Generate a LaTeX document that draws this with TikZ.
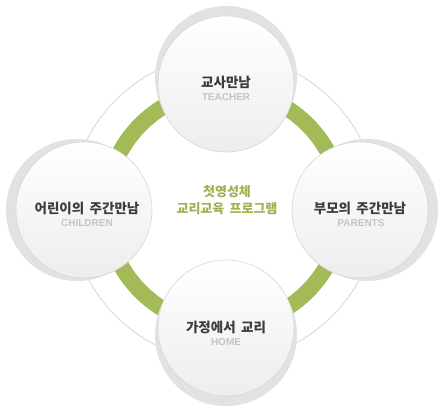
\documentclass[tikz,border=0pt]{standalone}
\usepackage{fontspec}
\newfontfamily\kr{Noto Sans CJK KR}
\newfontfamily\en{Liberation Sans}
\definecolor{shadowgray}{HTML}{E2E2E2}
\definecolor{rimgray}{HTML}{D6D6D6}
\definecolor{leaf}{HTML}{A2BA58}
\definecolor{leaftext}{HTML}{9CB352}
\definecolor{titlegray}{HTML}{3C3C3C}
\definecolor{subgray}{HTML}{C4C4C4}
\newcommand{\wsp}{\hspace{0.4em}}
\tikzset{
  stage/.style={circle, minimum size=136pt, inner sep=0pt, draw=rimgray, line width=0.6pt,
    top color=white, bottom color=black!7},
  shadowdisk/.style={circle, minimum size=142pt, inner sep=0pt, fill=shadowgray},
  title/.style={font=\kr\bfseries\fontsize{13.5}{15}\selectfont, text=titlegray, inner sep=0pt},
  sub/.style={font=\en\bfseries\fontsize{10}{11}\selectfont, text=subgray, inner sep=0pt},
  centertext/.style={font=\kr\bfseries\fontsize{13}{17}\selectfont, text=leaftext, align=center, inner sep=0pt}
}
\begin{document}
\begin{tikzpicture}[x=1pt,y=-1pt]
\useasboundingbox (0,0) rectangle (447,414);
\fill[white] (0,0) rectangle (447,414);
% big ring
\node[circle, minimum size=306pt, inner sep=0pt, draw=rimgray, line width=0.8pt, fill=white] (outer) at (224,208) {};
\node[circle, minimum size=236pt, inner sep=0pt, draw=leaf, line width=16pt] (greenring) at (224,208) {};
% shadows
\node[shadowdisk] (sT) at (226,77) {};
\node[shadowdisk] (sL) at (77,210) {};
\node[shadowdisk] (sR) at (367,210) {};
\node[shadowdisk] (sB) at (226,335) {};
% stage circles
\node[stage] (teacher) at (226,84) {};
\node[stage] (children) at (84,210) {};
\node[stage] (parents) at (360,210) {};
\node[stage] (home) at (226,328) {};
% labels
\node[title] (tT) at (226,82) {교사만남};
\node[sub] (eT) at (226,97) {TEACHER};
\node[title] (tL) at (87,208) {어린이의\wsp 주간만남};
\node[sub] (eL) at (87,223) {CHILDREN};
\node[title] (tR) at (360,208) {부모의\wsp 주간만남};
\node[sub] (eR) at (361,223) {PARENTS};
\node[title] (tB) at (226,327) {가정에서\wsp 교리};
\node[sub] (eB) at (226,342) {HOME};
\node[centertext] (center) at (227,200) {첫영성체\\교리교육\wsp 프로그램};
\end{tikzpicture}
\end{document}
